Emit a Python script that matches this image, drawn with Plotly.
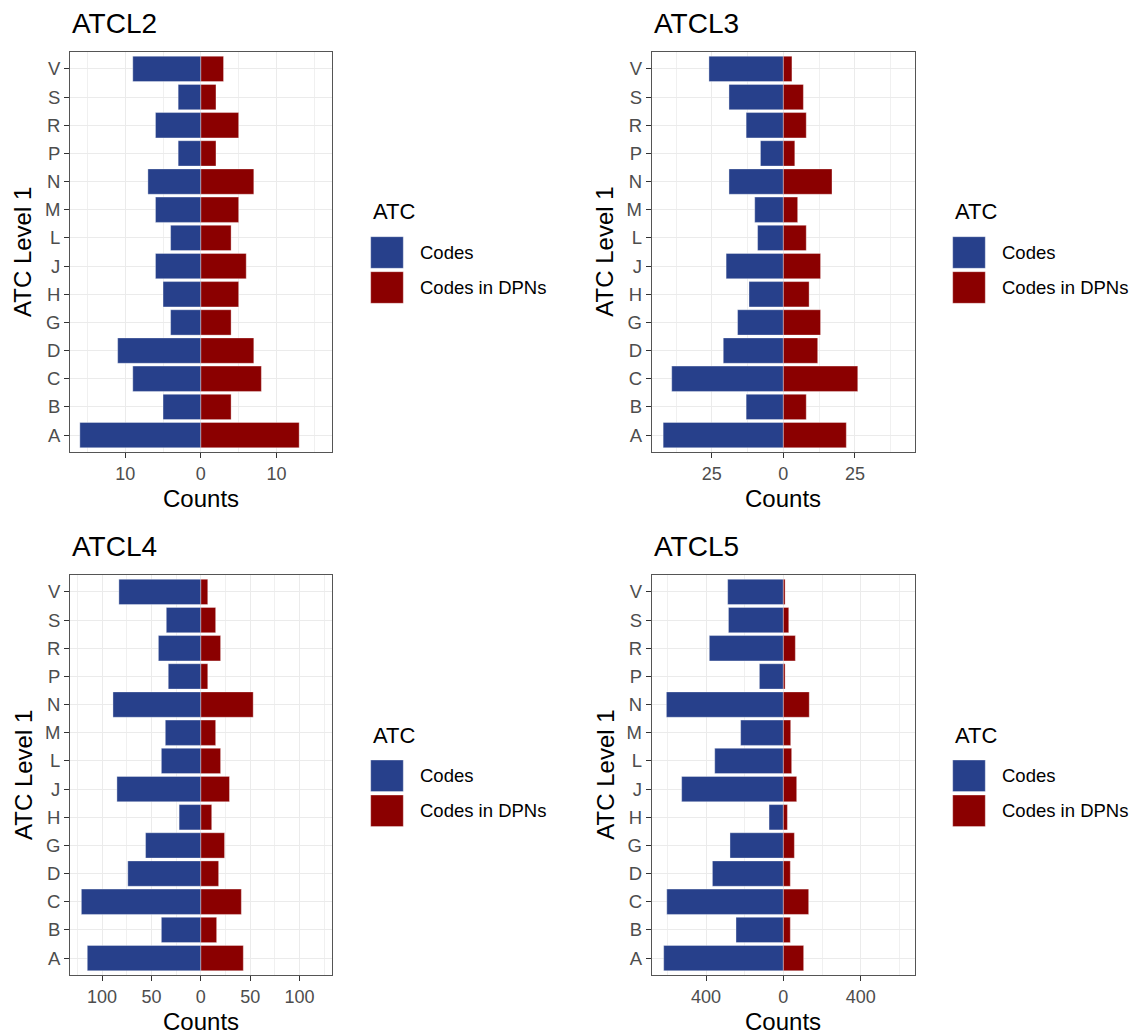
import plotly.graph_objects as go

# ---------------- data ----------------
categories = ["A", "B", "C", "D", "G", "H", "J", "L", "M", "N", "P", "R", "S", "V"]

atcl2_codes = [16, 5, 9, 11, 4, 5, 6, 4, 6, 7, 3, 6, 3, 9]
atcl2_dpn = [13, 4, 8, 7, 4, 5, 6, 4, 5, 7, 2, 5, 2, 3]

atcl3_codes = [42, 13, 39, 21, 16, 12, 20, 9, 10, 19, 8, 13, 19, 26]
atcl3_dpn = [22, 8, 26, 12, 13, 9, 13, 8, 5, 17, 4, 8, 7, 3]

atcl4_codes = [115, 40, 121, 74, 56, 22, 85, 40, 36, 89, 33, 43, 35, 83]
atcl4_dpn = [43, 16, 41, 18, 24, 11, 29, 20, 15, 53, 7, 20, 15, 7]

atcl5_codes = [619, 245, 603, 367, 276, 74, 526, 355, 221, 605, 124, 383, 284, 288]
atcl5_dpn = [105, 36, 131, 36, 57, 21, 69, 43, 38, 134, 9, 62, 28, 9]

panel_titles = ["ATCL2", "ATCL3", "ATCL4", "ATCL5"]
series_names = ["Codes", "Codes in DPNs"]
legend_title = "ATC"
x_title = "Counts"
y_title = "ATC Level 1"

tick_vals = [[-10, 0, 10], [-25, 0, 25], [-100, -50, 0, 50, 100], [-400, 0, 400]]
tick_text = [["10", "0", "10"], ["25", "0", "25"],
             ["100", "50", "0", "50", "100"], ["400", "0", "400"]]
minor_vals = [[-15, -5, 5, 15], [-37.5, -12.5, 12.5, 37.5],
              [-125, -75, -25, 25, 75, 125], [-600, -200, 200, 600]]
x_limits = [17.3, 46.0, 132.5, 681.0]

# ---------------- style / layout ----------------
W, H = 1140, 1036
BLUE = "#27408B"
RED = "#8B0000"
FONT = "Liberation Sans, Arial, sans-serif"

def px_x(x):
    return x / W

def px_y(y):
    return 1 - y / H

panels = [
    dict(codes=atcl2_codes, dpn=atcl2_dpn, x0=70, x1=331.7, y0=52, y1=452, yt=23),
    dict(codes=atcl3_codes, dpn=atcl3_dpn, x0=651.7, x1=915, y0=52, y1=452, yt=604.7),
    dict(codes=atcl4_codes, dpn=atcl4_dpn, x0=70, x1=331.7, y0=575, y1=975, yt=23),
    dict(codes=atcl5_codes, dpn=atcl5_dpn, x0=651.7, x1=915, y0=575, y1=975, yt=604.7),
]
legend_pos = [
    dict(x=370.7, y=211.7), dict(x=952.7, y=211.7),
    dict(x=370.7, y=735.0), dict(x=952.7, y=735.0),
]

fig = go.Figure()
annotations = []
shapes = []
edge = dict(color="rgba(255,255,255,0.6)", width=0.6)

for i, p in enumerate(panels):
    n = "" if i == 0 else str(i + 1)
    xa, ya = "x" + n, "y" + n
    fig.add_trace(go.Bar(
        y=categories, x=[-v for v in p["codes"]], orientation="h",
        name=series_names[0], marker=dict(color=BLUE, line=edge),
        width=0.9, xaxis=xa, yaxis=ya, showlegend=False,
        customdata=p["codes"], hovertemplate="%{y}: %{customdata}<extra>Codes</extra>",
    ))
    fig.add_trace(go.Bar(
        y=categories, x=p["dpn"], orientation="h",
        name=series_names[1], marker=dict(color=RED, line=edge),
        width=0.9, xaxis=xa, yaxis=ya, showlegend=False,
        hovertemplate="%{y}: %{x}<extra>Codes in DPNs</extra>",
    ))

    fig.layout["xaxis" + n] = dict(
        domain=[px_x(p["x0"]), px_x(p["x1"])], anchor=ya,
        range=[-x_limits[i], x_limits[i]],
        tickmode="array", tickvals=tick_vals[i], ticktext=tick_text[i],
        ticks="outside", ticklen=5, tickwidth=1, tickcolor="#333333",
        tickfont=dict(family=FONT, size=18, color="#4D4D4D"),
        showgrid=True, gridcolor="#EBEBEB", gridwidth=1.1,
        minor=dict(tickmode="array", tickvals=minor_vals[i], showgrid=True,
                   gridcolor="#F0F0F0", gridwidth=0.6, ticks=""),
        zeroline=False, showline=True, mirror=True,
        linecolor="#555555", linewidth=1, fixedrange=True,
    )
    fig.layout["yaxis" + n] = dict(
        domain=[px_y(p["y1"]), px_y(p["y0"])], anchor=xa,
        type="category", categoryorder="array", categoryarray=categories,
        range=[-0.6, len(categories) - 0.4],
        ticks="outside", ticklen=5, tickwidth=1, tickcolor="#333333",
        tickfont=dict(family=FONT, size=18.5, color="#4D4D4D"),
        showgrid=True, gridcolor="#EBEBEB", gridwidth=1.1,
        zeroline=False, showline=True, mirror=True,
        linecolor="#555555", linewidth=1, fixedrange=True,
    )

    # panel title
    annotations.append(dict(
        text=panel_titles[i], x=px_x(p["x0"]), y=px_y(p["y0"] - 29),
        xref="paper", yref="paper", xanchor="left", yanchor="middle",
        showarrow=False, font=dict(family=FONT, size=28, color="black"),
    ))
    # x axis title
    annotations.append(dict(
        text=x_title, x=px_x((p["x0"] + p["x1"]) / 2), y=px_y(p["y1"] + 46),
        xref="paper", yref="paper", xanchor="center", yanchor="middle",
        showarrow=False, font=dict(family=FONT, size=24, color="black"),
    ))
    # y axis title
    annotations.append(dict(
        text=y_title, x=px_x(p["yt"]), y=px_y((p["y0"] + p["y1"]) / 2),
        xref="paper", yref="paper", xanchor="center", yanchor="middle", textangle=-90,
        showarrow=False, font=dict(family=FONT, size=24, color="black"),
    ))

    # legend (drawn manually to match ggplot's large keys)
    lp = legend_pos[i]
    annotations.append(dict(
        text=legend_title, x=px_x(lp["x"]), y=px_y(lp["y"]),
        xref="paper", yref="paper", xanchor="left", yanchor="middle",
        showarrow=False, font=dict(family=FONT, size=22, color="black"),
    ))
    key_top = lp["y"] + 25
    for k, (name, col) in enumerate(zip(series_names, [BLUE, RED])):
        ky0 = key_top + k * 35
        ky1 = ky0 + 31.6
        shapes.append(dict(
            type="rect", xref="paper", yref="paper",
            x0=px_x(lp["x"]), x1=px_x(lp["x"] + 32.6),
            y0=px_y(ky1), y1=px_y(ky0),
            fillcolor=col, line=edge,
        ))
        annotations.append(dict(
            text=name, x=px_x(lp["x"] + 47.3), y=px_y((ky0 + ky1) / 2),
            xref="paper", yref="paper", xanchor="left", yanchor="middle",
            showarrow=False, font=dict(family=FONT, size=18.5, color="black"),
        ))

fig.update_layout(
    width=W, height=H,
    margin=dict(l=0, r=0, t=0, b=0),
    paper_bgcolor="white", plot_bgcolor="white",
    barmode="relative", bargap=0.1,
    annotations=annotations, shapes=shapes,
    showlegend=False,
    font=dict(family=FONT),
)

fig.write_html(
    "out.html",
    config={"displayModeBar": False},
    post_script="document.body.style.margin='0';document.body.style.overflow='hidden';",
)
